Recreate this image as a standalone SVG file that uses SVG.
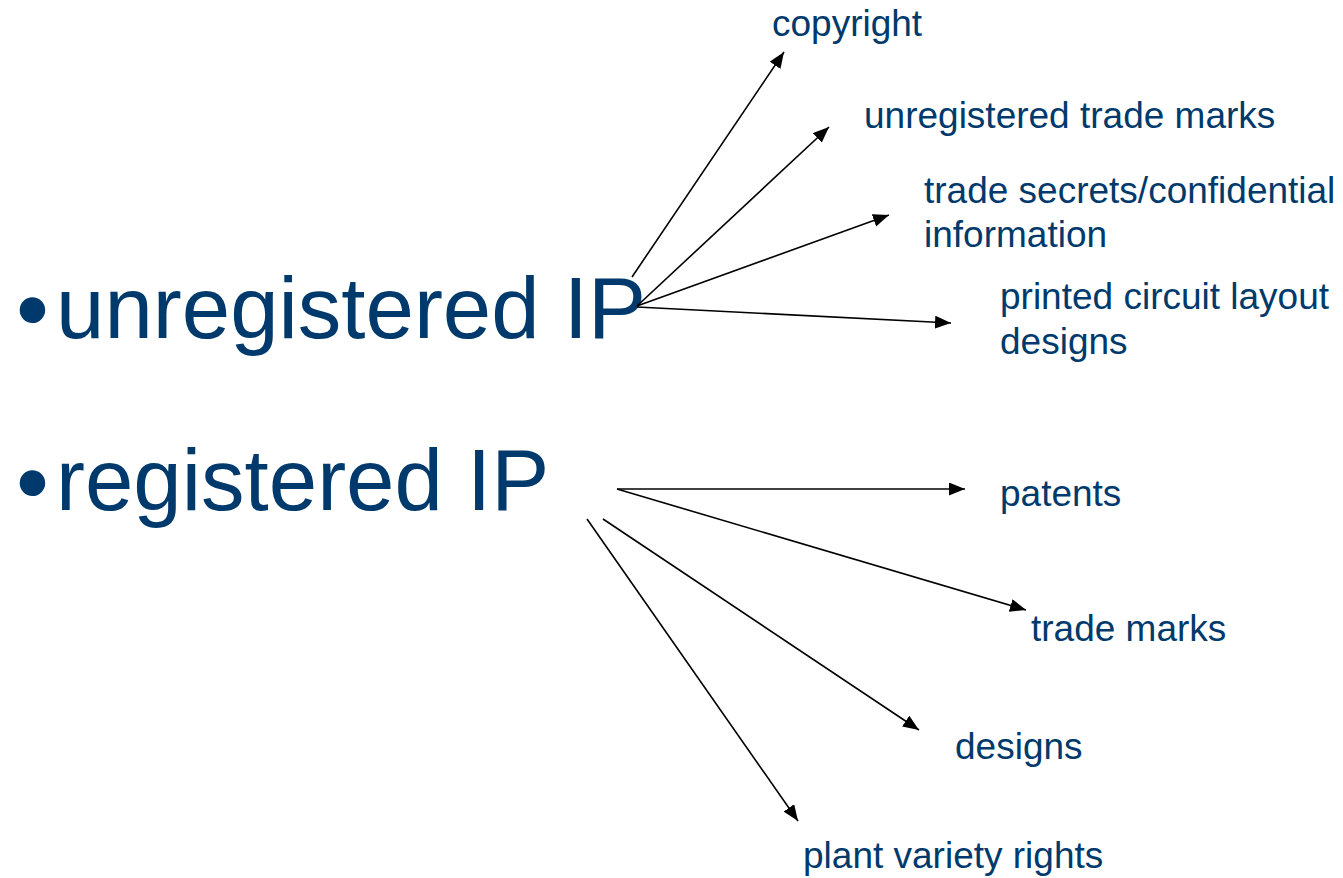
<svg xmlns="http://www.w3.org/2000/svg" width="1343" height="878" viewBox="0 0 1343 878">
  <defs>
    <style>
      .big { font-family: "Liberation Sans", Arial, sans-serif; font-size: 87px; fill: #003a6c; }
      .bullet { font-family: "Liberation Sans", Arial, sans-serif; font-size: 94px; fill: #003a6c; }
      .label { font-family: "Liberation Sans", Arial, sans-serif; font-size: 37px; fill: #003a6c; }
      .conn line { stroke: #000; stroke-width: 1.6; fill: none; marker-end: url(#arrow); }
    </style>
    <marker id="arrow" markerUnits="userSpaceOnUse" markerWidth="17" markerHeight="14" refX="16" refY="6.5" orient="auto">
      <path d="M0,0 L16,6.5 L0,13 z" fill="#000"/>
    </marker>
  </defs>
  <rect width="1343" height="878" fill="#fff"/>

  <!-- main categories -->
  <g id="unregistered-ip">
    <text class="bullet" x="16" y="342">•</text>
    <text class="big" x="56" y="338">unregistered IP</text>
  </g>
  <g id="registered-ip">
    <text class="bullet" x="16" y="515">•</text>
    <text class="big" x="56" y="510">registered IP</text>
  </g>

  <!-- unregistered kinds -->
  <g id="copyright"><text class="label" x="772" y="36">copyright</text></g>
  <g id="unregistered-trade-marks"><text class="label" x="864" y="128">unregistered trade marks</text></g>
  <g id="trade-secrets">
    <text class="label" x="924" y="203">trade secrets/confidential</text>
    <text class="label" x="924" y="247">information</text>
  </g>
  <g id="circuit-layouts">
    <text class="label" x="1000" y="309">printed circuit layout</text>
    <text class="label" x="1000" y="354">designs</text>
  </g>

  <!-- registered kinds -->
  <g id="patents"><text class="label" x="1000" y="506">patents</text></g>
  <g id="trade-marks"><text class="label" x="1031" y="641">trade marks</text></g>
  <g id="designs"><text class="label" x="955" y="759">designs</text></g>
  <g id="plant-variety-rights"><text class="label" x="803" y="868">plant variety rights</text></g>

  <!-- connectors -->
  <g id="connectors" class="conn">
    <line x1="632" y1="277" x2="784" y2="52"/>
    <line x1="637" y1="306" x2="829" y2="127"/>
    <line x1="637" y1="306" x2="889" y2="215"/>
    <line x1="637" y1="307" x2="951" y2="323"/>
    <line x1="617" y1="489" x2="965" y2="489"/>
    <line x1="617" y1="489" x2="1026" y2="610"/>
    <line x1="603" y1="519" x2="919" y2="730"/>
    <line x1="587" y1="519" x2="798" y2="821"/>
  </g>
</svg>
